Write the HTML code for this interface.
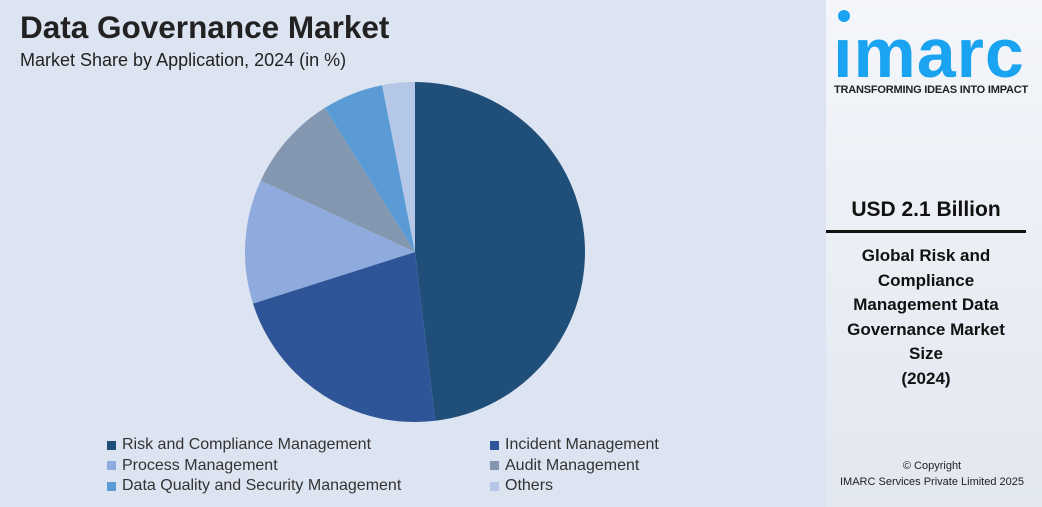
<!DOCTYPE html>
<html><head><meta charset="utf-8"><style>
body{margin:0;width:1042px;height:507px;overflow:hidden;font-family:"Liberation Sans",sans-serif;background:#dce3f1;position:relative}
#left{position:absolute;left:0;top:0;width:826px;height:507px;background:#dce3f1}
#right{position:absolute;left:826px;top:0;width:216px;height:507px;background:linear-gradient(180deg,#f4f6fa 0%,#eaeef5 50%,#e2e7f0 100%)}
h1{position:absolute;left:20px;top:9px;margin:0;font-size:31.5px;font-weight:bold;color:#222}
.sub{position:absolute;left:20px;top:50px;font-size:18px;color:#222}
.leg{position:absolute;font-size:16px;color:#333;display:flex;align-items:center}
.leg i{display:inline-block;width:9px;height:9px;margin-right:6px}
</style></head><body>
<div id="left">
<h1>Data Governance Market</h1>
<div class="sub">Market Share by Application, 2024 (in %)</div>
<svg id="pie" width="826" height="507" style="position:absolute;left:0;top:0"></svg>
<div id="legend"></div>
</div>
<div id="right">
<div style="position:absolute;left:12px;top:10px;width:12px;height:12px;border-radius:50%;background:#1aa3f0"></div>
<div style="position:absolute;left:7px;top:18px;font-size:70px;font-weight:bold;color:#1aa3f0;letter-spacing:1px;line-height:70px">ımarc</div>
<div style="position:absolute;left:8px;top:84px;font-size:11px;font-weight:bold;color:#222;letter-spacing:-0.2px">TRANSFORMING IDEAS INTO IMPACT</div>
<div style="position:absolute;left:0;width:200px;top:198px;text-align:center;font-size:21px;font-weight:bold;color:#111">USD 2.1 Billion</div>
<div style="position:absolute;left:0;top:230px;width:200px;height:3px;background:#111"></div>
<div style="position:absolute;left:0;width:200px;top:244px;text-align:center;font-size:17px;font-weight:bold;color:#111;line-height:24.5px">Global Risk and<br>Compliance<br>Management Data<br>Governance Market<br>Size<br>(2024)</div>
<div style="position:absolute;left:0;width:212px;top:458px;text-align:center;font-size:11px;color:#222;line-height:16px">© Copyright<br>IMARC Services Private Limited 2025</div>
</div>
<script>
const categories=["Risk and Compliance Management","Incident Management","Process Management","Audit Management","Data Quality and Security Management","Others"];
const values=[48.1,22.0,11.8,9.2,5.8,3.1];
const colors=["#1f4e79","#2e5597","#8faadc","#8497b0","#5b9bd5","#b4c7e7"];
const svg=document.getElementById('pie');
const cx=415,cy=252,r=170;
const total=values.reduce((a,b)=>a+b,0);
let acc=0;
function pt(f){const a=f*2*Math.PI;return [cx+r*Math.sin(a),cy-r*Math.cos(a)];}
values.forEach((v,i)=>{
 const s=acc/total,e=(acc+v)/total;acc+=v;
 const p0=pt(s),p1=pt(e);
 const path=document.createElementNS('http://www.w3.org/2000/svg','path');
 path.setAttribute('d',`M${cx},${cy}L${p0[0]},${p0[1]}A${r},${r} 0 ${e-s>0.5?1:0} 1 ${p1[0]},${p1[1]}Z`);
 path.setAttribute('fill',colors[i]);
 
 
 svg.appendChild(path);
});
const lg=document.getElementById('legend');
categories.forEach((c,i)=>{
 const d=document.createElement('div');
 d.className='leg';
 d.style.left=(i%2?490:107)+'px';
 d.style.top=(436+Math.floor(i/2)*20.5)+'px';
 d.innerHTML=`<i style="background:${colors[i]}"></i>${c}`;
 
 
 lg.appendChild(d);
});
</script>
</body></html>
